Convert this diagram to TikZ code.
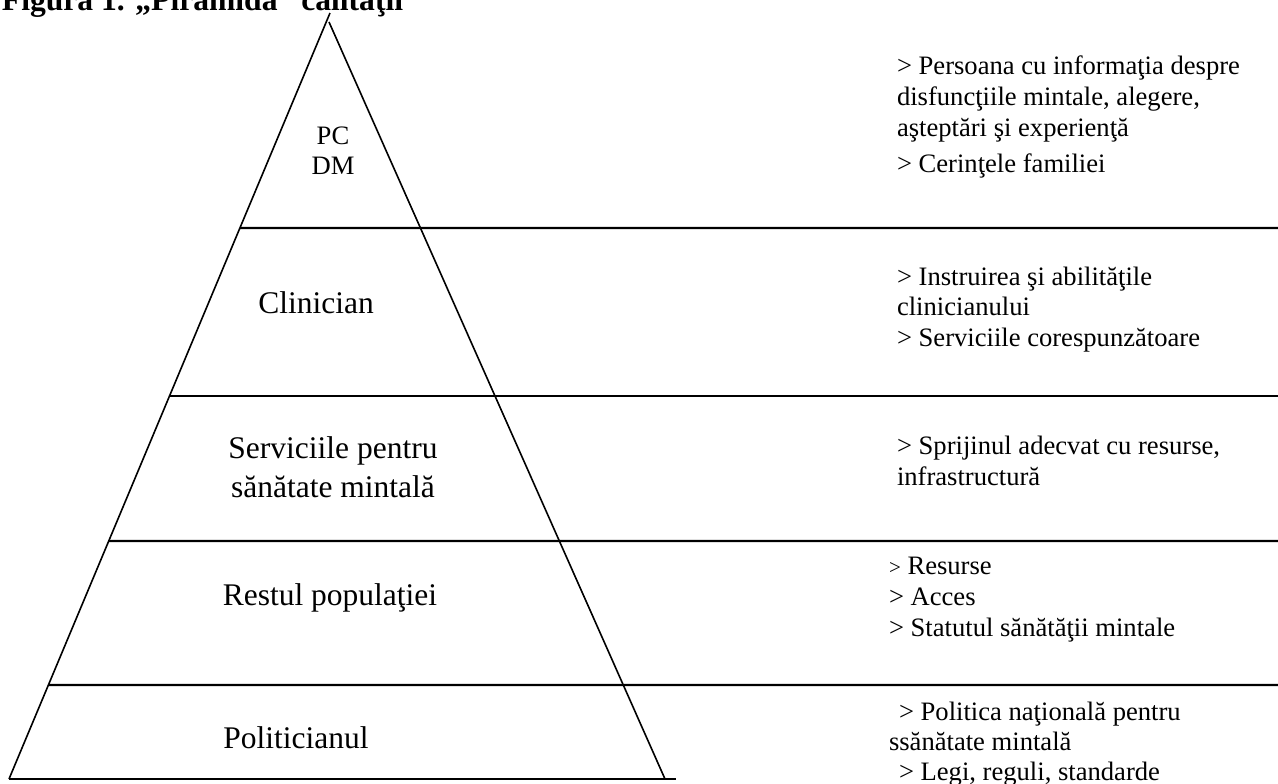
\documentclass[tikz,border=0pt]{standalone}
\usepackage{fontspec}
\setmainfont{Liberation Serif}
\usetikzlibrary{calc}
\tikzset{
  lvl/.style={line width=1.1pt},
  side/.style={line width=0.8pt},
  lab/.style={inner sep=0pt, outer sep=0pt, anchor=base, font=\fontsize{15.75}{18}\selectfont},
  txt/.style={inner sep=0pt, outer sep=0pt, anchor=base west, font=\fontsize{13.3}{15}\selectfont},
  ttl/.style={inner sep=0pt, outer sep=0pt, anchor=base west, font=\fontsize{15.8}{18}\selectfont\bfseries},
}
\begin{document}
\begin{tikzpicture}[x=0.5pt,y=-0.5pt]
\useasboundingbox (0,0) rectangle (1278,783);
\begin{scope}
\clip (0,0) rectangle (1278,783);
% title (cut at top)
\node[ttl] (title) at (2,10) {Figura 1. „Piramida” calităţii};
% pyramid
\coordinate (apexL) at (330,13);
\coordinate (apexR) at (329,22);
\coordinate (bl) at (9,779);
\coordinate (br) at (665,779);
\coordinate (bend) at (676,779);
\draw[side] (apexL) -- (bl);
\draw[side] (apexR) -- (br);
\draw[lvl] (bl) -- (bend);
% level lines
\coordinate (l1) at ($(apexL)!{(228-13)/766}!(bl)$);
\coordinate (l2) at ($(apexL)!{(396-13)/766}!(bl)$);
\coordinate (l3) at ($(apexL)!{(541-13)/766}!(bl)$);
\coordinate (l4) at ($(apexL)!{(685-13)/766}!(bl)$);
\coordinate (r1) at (1278,228);
\coordinate (r2) at (1278,396);
\coordinate (r3) at (1278,541);
\coordinate (r4) at (1278,685);
\draw[lvl] (l1) -- (r1);
\draw[lvl] (l2) -- (r2);
\draw[lvl] (l3) -- (r3);
\draw[lvl] (l4) -- (r4);
% pyramid labels
\node[lab, font=\fontsize{13.3}{15}\selectfont] (pc) at (333,144) {PC};
\node[lab, font=\fontsize{13.3}{15}\selectfont] (dm) at (333,174) {DM};
\node[lab] (clin) at (316,313) {Clinician};
\node[lab] (serv1) at (333,458) {Serviciile pentru};
\node[lab] (serv2) at (333,497) {sănătate mintală};
\node[lab] (rest) at (330,605) {Restul populaţiei};
\node[lab] (pol) at (296,748) {Politicianul};
% right texts
\node[txt] (a1) at (897,74) {> Persoana cu informaţia despre};
\node[txt] (a2) at (897,105) {disfuncţiile mintale, alegere,};
\node[txt] (a3) at (897,136) {aşteptări şi experienţă};
\node[txt] (a4) at (897,172) {> Cerinţele familiei};
\node[txt] (b1) at (897,285) {> Instruirea şi abilităţile};
\node[txt] (b2) at (897,315) {clinicianului};
\node[txt] (b3) at (897,346) {> Serviciile corespunzătoare};
\node[txt] (c1) at (897,454) {> Sprijinul adecvat cu resurse,};
\node[txt] (c2) at (897,485) {infrastructură};
\node[txt] (d1) at (889,574) {{\fontsize{10.5}{12}\selectfont >} Resurse};
\node[txt] (d2) at (889,605) {> Acces};
\node[txt] (d3) at (889,636) {> Statutul sănătăţii mintale};
\node[txt] (e1) at (899,720) {> Politica naţională pentru};
\node[txt] (e2) at (889,750) {ssănătate mintală};
\node[txt] (e3) at (899,780) {> Legi, reguli, standarde};
\end{scope}
\end{tikzpicture}
\end{document}
